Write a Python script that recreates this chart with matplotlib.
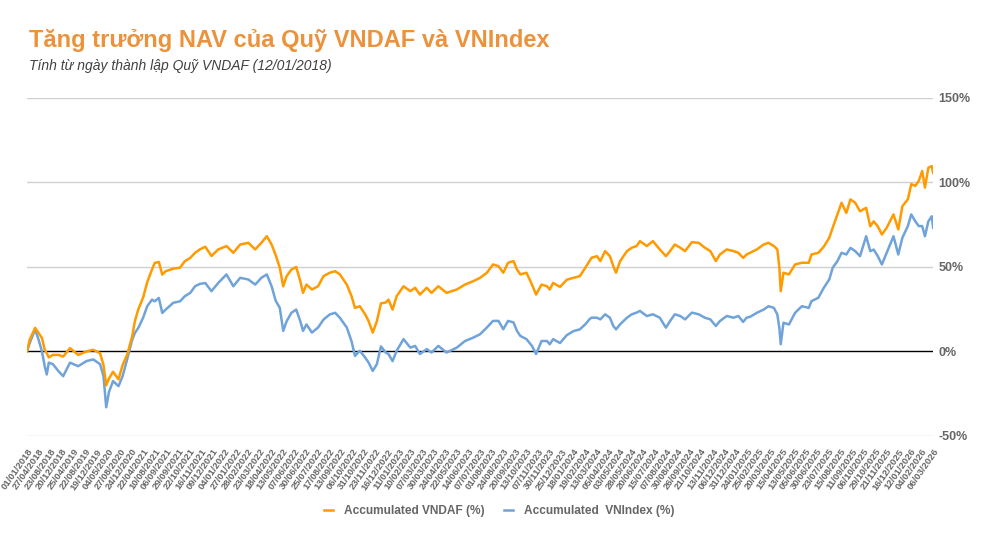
import matplotlib
matplotlib.use("Agg")
import matplotlib.pyplot as plt
import numpy as np

# category labels shown on the x axis (one every 17 sessions)
date_labels = [
    "01/01/2018", "27/04/2018", "23/08/2018", "20/12/2018", "25/04/2019", "22/08/2019",
    "19/12/2019", "04/05/2020", "27/08/2020", "24/12/2020", "22/04/2021", "10/08/2021",
    "06/09/2021", "29/09/2021", "22/10/2021", "16/11/2021", "09/12/2021", "04/01/2022",
    "27/01/2022", "28/02/2022", "23/03/2022", "18/04/2022", "13/05/2022", "07/06/2022",
    "30/06/2022", "25/07/2022", "17/08/2022", "13/09/2022", "06/10/2022", "31/10/2022",
    "23/11/2022", "16/12/2022", "11/01/2023", "10/02/2023", "07/03/2023", "30/03/2023",
    "24/04/2023", "22/05/2023", "14/06/2023", "07/07/2023", "01/08/2023", "24/08/2023",
    "20/09/2023", "13/10/2023", "07/11/2023", "30/11/2023", "25/12/2023", "18/01/2024",
    "19/02/2024", "13/03/2024", "05/04/2024", "03/05/2024", "28/05/2024", "20/06/2024",
    "15/07/2024", "07/08/2024", "30/08/2024", "26/09/2024", "21/10/2024", "13/11/2024",
    "06/12/2024", "31/12/2024", "24/01/2025", "25/02/2025", "20/03/2025", "15/04/2025",
    "13/05/2025", "05/06/2025", "30/06/2025", "23/07/2025", "15/08/2025", "11/09/2025",
    "06/10/2025", "29/10/2025", "21/11/2025", "16/12/2025", "12/01/2026", "04/02/2026",
    "06/03/2026",
]
LABEL_STEP = 17

# session index (row in the data sheet) of each sampled point
rows = [
    0, 4, 12, 17, 22, 26, 29, 32, 38, 46, 53, 63, 75, 87, 97, 107, 112, 116, 120, 126,
    134, 140, 147, 154, 158, 163, 170, 176, 183, 187, 193, 198, 203, 214, 224, 231, 239,
    246, 253, 261, 270, 280, 292, 302, 312, 324, 334, 343, 351, 358, 364, 370, 375, 380,
    387, 394, 400, 404, 409, 417, 426, 434, 443, 451, 458, 468, 475, 480, 487, 495, 500,
    506, 512, 518, 525, 529, 535, 541, 551, 561, 568, 575, 585, 592, 602, 614, 629, 641,
    653, 663, 673, 682, 690, 697, 704, 712, 717, 722, 731, 739, 745, 753, 761, 765, 770,
    780, 790, 800, 809, 817, 823, 826, 834, 839, 846, 853, 858, 862, 868, 878, 885, 892,
    897, 907, 916, 926, 935, 941, 948, 956, 963, 973, 983, 992, 1000, 1008, 1014, 1024,
    1034, 1041, 1048, 1053, 1058, 1068, 1078, 1085, 1093, 1098, 1101, 1103, 1107, 1115,
    1124, 1134, 1144, 1148, 1158, 1166, 1174, 1179, 1186, 1192, 1199, 1205, 1212, 1219,
    1228, 1234, 1239, 1245, 1251, 1258, 1268, 1275, 1281, 1289, 1294, 1300, 1305, 1310,
    1314, 1319, 1324, 1326,
]

vndaf = [
    0, 7, 14, 11, 8, 1, -1, -3.5, -2, -2, -3, 2, -2, 0, 1, -1, -8, -20, -16, -12,
    -16.5, -8, -1.5, 9, 18, 25, 32, 41, 48.5, 52.4, 53, 45.5, 47.5, 49, 49.6, 53.4, 55.4,
    58.4, 60.4, 62, 56.5, 60.4, 62.4, 58.4, 63.3, 64.3, 60.4, 64.3, 68.2, 63.3, 57, 49.5,
    38.6, 44.6, 48.5, 50, 41.6, 34.7, 39.6, 36.7, 38.6, 44.6, 46.6, 47.5, 45.6, 39.6,
    32.7, 25.8, 26.8, 21.9, 17.9, 11.2, 17.9, 28.5, 29, 30.7, 24.8, 32.7, 38.6, 35.7,
    37.7, 33.7, 37.7, 34.7, 38.6, 34.7, 36.7, 39.6, 41.6, 43.6, 46.6, 51.5, 50.5, 46.6,
    52.5, 53.5, 48.5, 45.6, 46.6, 39.6, 33.7, 39.6, 38.6, 36.7, 40.6, 38.2, 42.5, 43.6,
    44.6, 49.5, 53.5, 55.4, 56.4, 53.5, 59.4, 56.4, 50.5, 46.6, 53.5, 59.4, 61.4, 62.4,
    65.3, 62.4, 65.3, 60.4, 56.4, 59.4, 63.3, 61.4, 59.4, 64.7, 64.3, 61.4, 59.4, 53.5,
    57.4, 60.4, 59.4, 58.4, 55.4, 57.4, 58.4, 60.4, 63.3, 64.3, 62.4, 60.4, 49.5, 35.7,
    46.6, 45.6, 51.5, 52.5, 52.5, 57.4, 58.4, 62, 67.3, 73.2, 81.1, 88, 82, 90, 88, 83,
    85, 74.1, 77, 74.1, 69.2, 73.2, 81.1, 72.2, 86, 90, 99, 98, 101, 106.8, 97, 108.7,
    109.7, 105.7,
]

vnindex = [
    0, 5, 13, 7, 0, -8.7, -13.6, -6.6, -7.5, -11.6, -14.6, -6.6, -8.7, -5.7, -4.7, -7.5,
    -14.6, -33, -24, -17.5, -20.5, -14.6, -4, 7, 11, 14, 20, 26.8, 30.7, 29.7, 31.7, 22.8,
    24.8, 28.8, 29.7, 32.7, 34.7, 38.6, 40, 40.5, 35.7, 40.6, 45.6, 38.6, 43.6, 42.6, 39.6,
    43.6, 45.6, 38.6, 30, 25.8, 12.2, 17.9, 22.9, 24.8, 17.9, 12.2, 16, 11.2, 14.2, 18.9,
    21.9, 22.9, 19.9, 14.2, 6, -2.6, 0.4, -3.6, -6.6, -11.5, -7.5, 3, -0.6, -1.5, -5.7,
    0.4, 7.3, 2.3, 3.3, -1.5, 1.4, -0.6, 3.3, -0.6, 2.3, 6.2, 8.2, 10.2, 14.2, 18.1, 18.1,
    13.2, 18.1, 17.2, 12.2, 9.2, 7.3, 3.3, -1.5, 6.2, 6.2, 4.3, 7.3, 5, 9.7, 12.1, 13.1,
    16.1, 19, 20, 20, 19, 22, 20, 15.1, 13.1, 16.1, 20, 22, 23, 24, 21, 22, 20, 14.1, 18,
    22, 21, 19, 23, 22, 20, 19, 15.1, 18, 21, 20, 21, 17.5, 20, 20.5, 22.9, 24.8, 26.8,
    25.8, 21.9, 14, 4.3, 17, 16, 22.9, 26.8, 25.8, 29.8, 31.8, 37.7, 42.6, 49.5, 53.5,
    58.4, 57.4, 61.3, 59.4, 56.4, 68.2, 59.4, 60.3, 56.4, 51.5, 58.4, 68.2, 57.4, 67.3,
    74.2, 81.1, 77, 74.2, 74.2, 68.2, 77, 80, 73.2,
]

y_ticks = [-50, 0, 50, 100, 150]

plt.rcParams["font.family"] = ["Liberation Sans", "DejaVu Sans"]
grey = "#666666"

fig = plt.figure(figsize=(9.98, 5.45), dpi=100)
ax = fig.add_axes([0.027, 0.2, 0.908, 0.6202])

for v in y_ticks:
    if v == 0:
        ax.axhline(v, color="black", lw=1.0, zorder=1)
    else:
        ax.axhline(v, color="#D0D0D0", lw=1.0, zorder=1)

ax.plot(rows, vndaf, color="#FF9A00", lw=1.8, label="Accumulated VNDAF (%)", zorder=3)
ax.plot(rows, vnindex, color="#6FA3D9", lw=1.8, label="Accumulated  VNIndex (%)", zorder=2)

ax.set_xlim(0, LABEL_STEP * (len(date_labels) - 1))
ax.set_ylim(-50, 150)

ax.yaxis.tick_right()
ax.set_yticks(y_ticks)
ax.set_yticklabels([f"{v}%" for v in y_ticks], fontsize=9, fontweight="bold", color=grey)
ax.tick_params(axis="y", length=0, pad=4)

ax.set_xticks(np.arange(len(date_labels)) * LABEL_STEP)
ax.set_xticklabels(date_labels, rotation=55, ha="right", rotation_mode="anchor",
                   fontsize=6.8, fontweight="bold", color=grey)
ax.tick_params(axis="x", length=0, pad=8)

for s in ax.spines.values():
    s.set_visible(False)

fig.text(0.029, 0.913, "Tăng trưởng NAV của Quỹ VNDAF và VNIndex", fontsize=17,
         fontweight="bold", color="#EB923A", va="baseline")
fig.text(0.029, 0.872, "Tính từ ngày thành lập Quỹ VNDAF (12/01/2018)", fontsize=10,
         style="italic", color="#404040", va="baseline")

fig.legend(loc="center", bbox_to_anchor=(0.5, 0.062), ncol=2, frameon=False,
           handlelength=0.8, handletextpad=0.9, columnspacing=1.6,
           prop={"size": 8.6, "weight": "bold"}, labelcolor=grey)

fig.savefig("out.png", dpi=100, facecolor="white")
